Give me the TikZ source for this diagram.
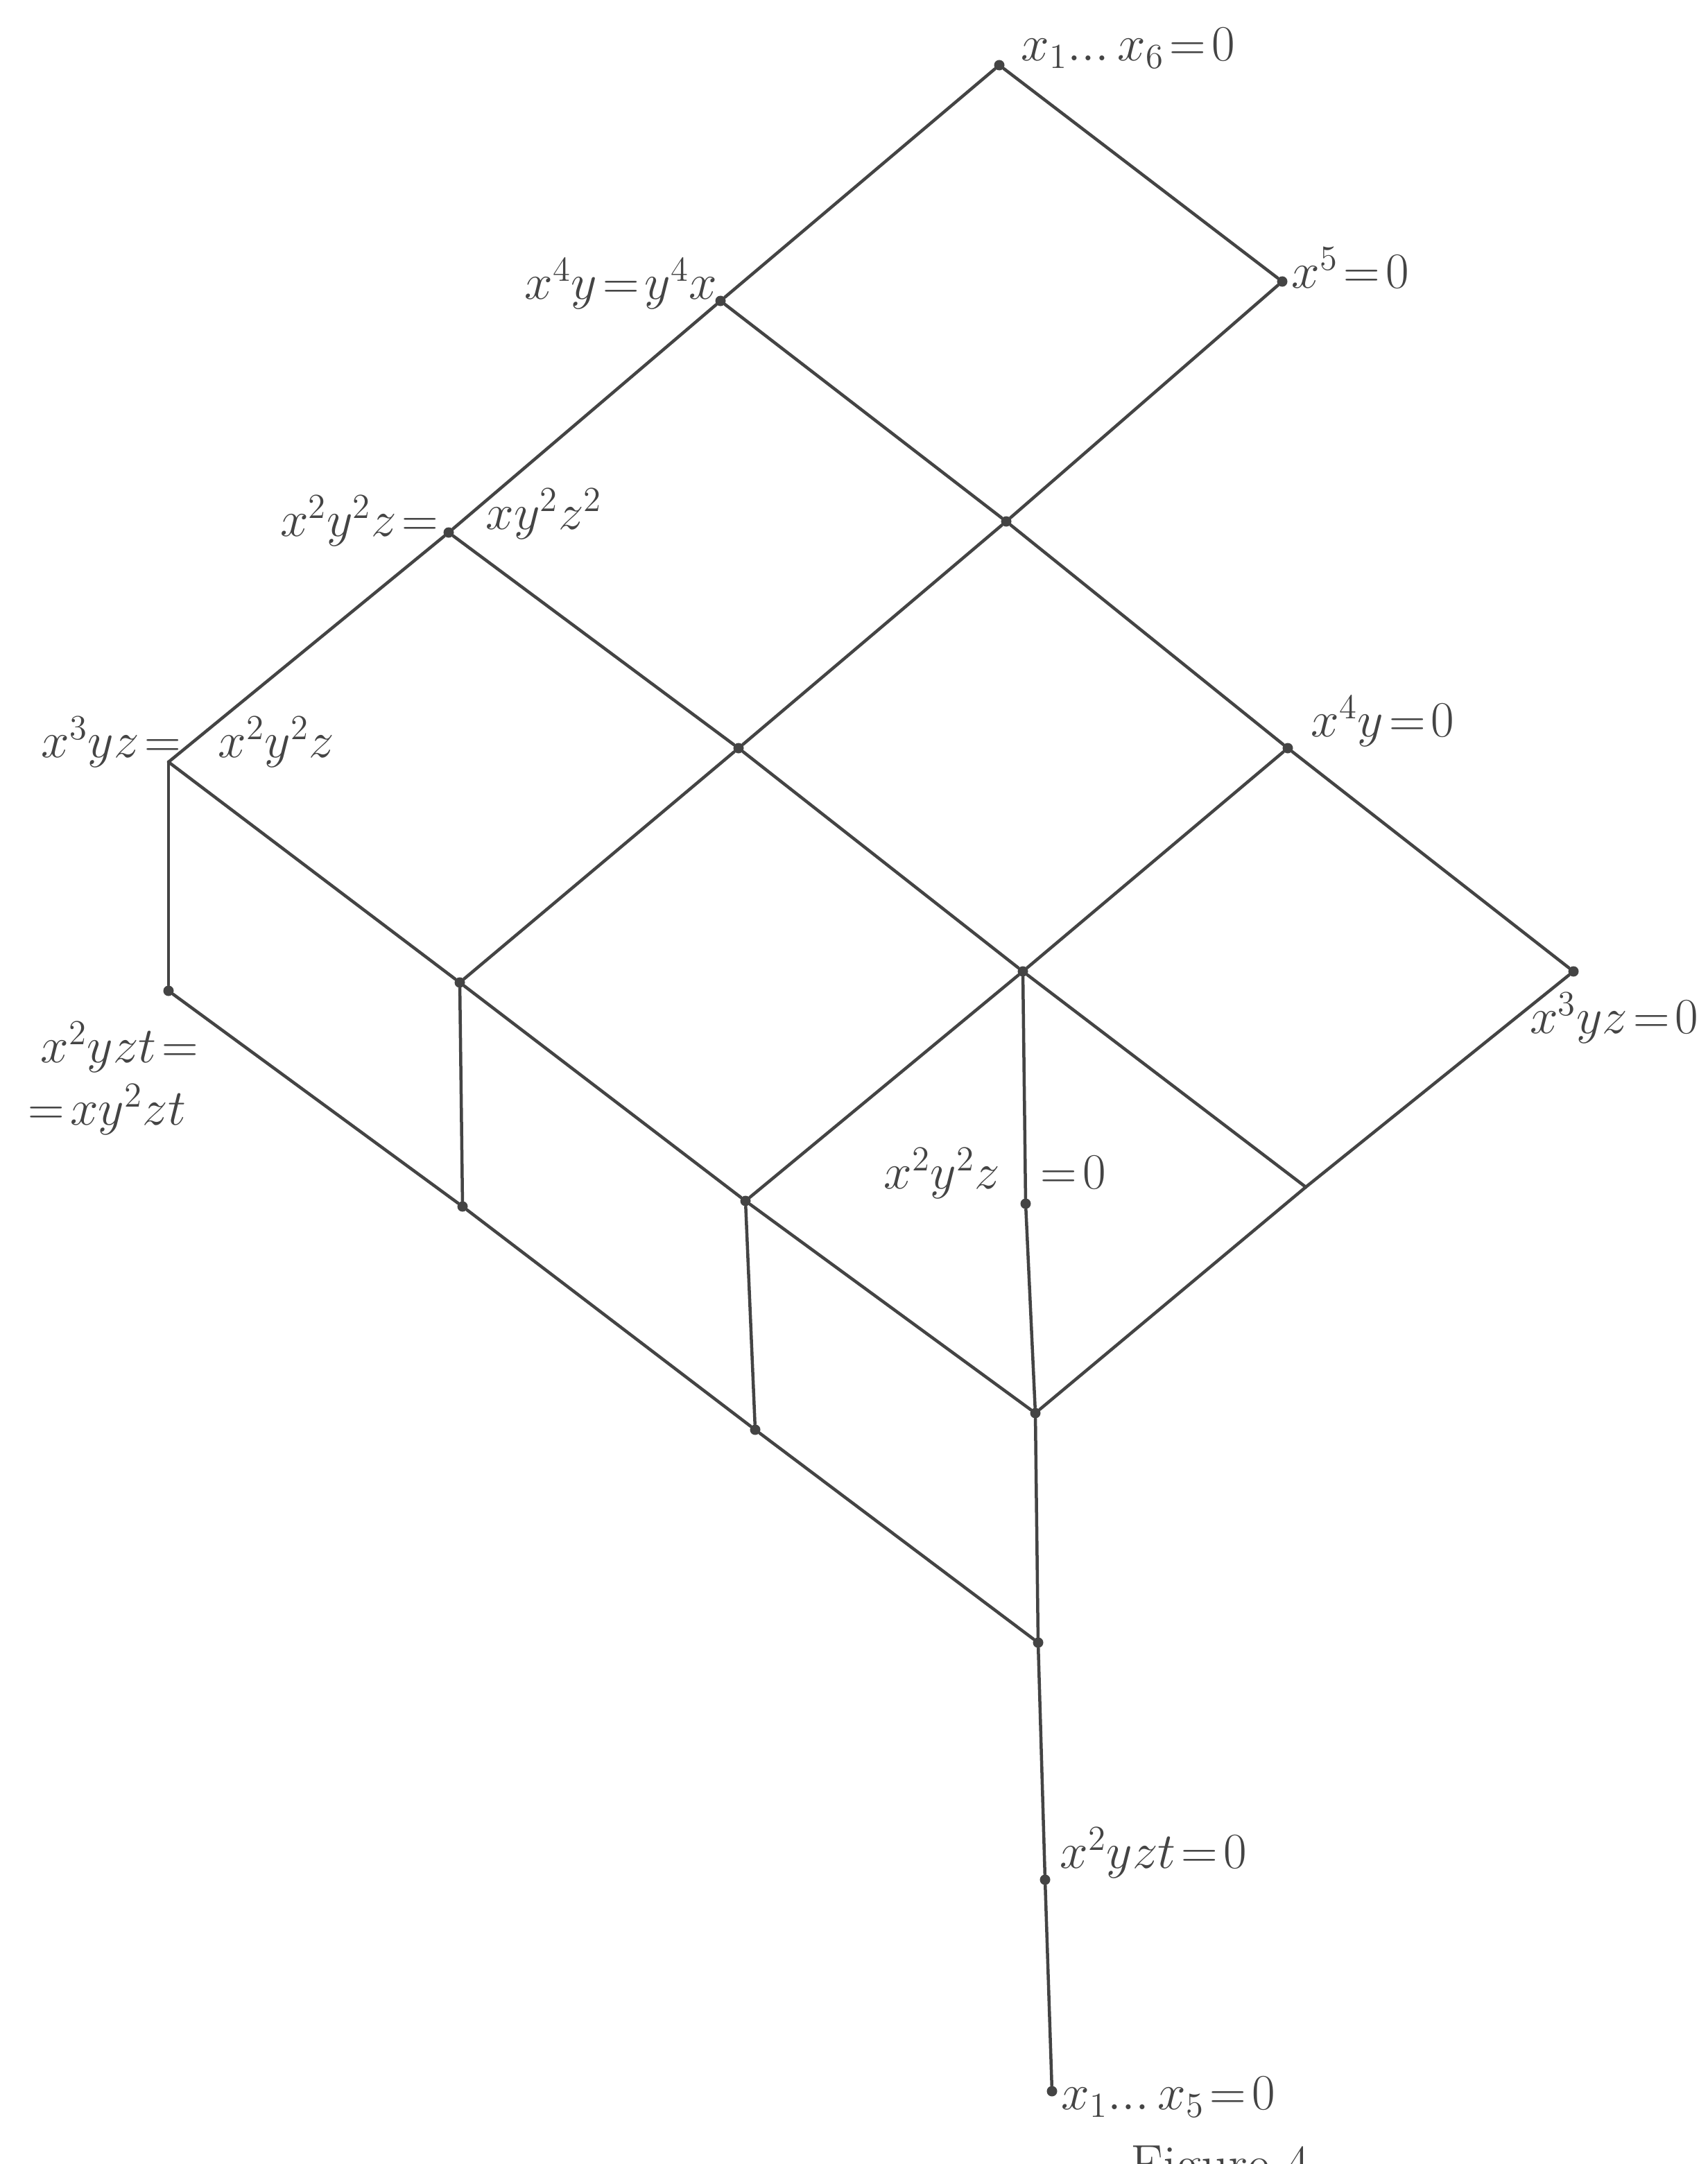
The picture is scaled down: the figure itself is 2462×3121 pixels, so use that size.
\documentclass[tikz,border=0pt]{standalone}
\usepackage{fontspec}
\definecolor{ink}{RGB}{68,68,68}
\newcommand{\tdots}{\ldotp\!\ldotp\!\ldotp}
\begin{document}
\begin{tikzpicture}[x=0.01cm,y=-0.01cm,
  ln/.style={draw=ink,line width=0.045cm,line cap=round,line join=round},
  vtx/.style={circle,fill=ink,inner sep=0pt,minimum size=0.15cm},
  lab/.style={text=ink,inner sep=0pt,font=\fontsize{22}{26}\selectfont,
    execute at begin node={\thickmuskip=2mu\relax\medmuskip=2mu\relax}}]
\useasboundingbox (0,0) rectangle (2462,3121);
\clip (0,0) rectangle (2462,3121);
\fill[white] (0,0) rectangle (2462,3121);
% vertices
\node[vtx] (T)  at (1441,94) {};
\node[vtx] (a1) at (1849,406) {};
\node[vtx] (b0) at (1039,434) {};
\node[vtx] (b1) at (1451,752) {};
\node[vtx] (b2) at (1857,1079) {};
\node[vtx] (b3) at (2269,1401) {};
\node[vtx] (c0) at (647,768) {};
\node[vtx] (c1) at (1065,1079) {};
\node[vtx] (c2) at (1475,1401) {};
\coordinate (c3) at (1883,1712);
\coordinate (d0) at (243,1099);
\node[vtx] (d1) at (663,1417) {};
\node[vtx] (d2) at (1075,1732) {};
\node[vtx] (d3) at (1493,2038) {};
\node[vtx] (e0) at (243,1429) {};
\node[vtx] (e1) at (667,1740) {};
\node[vtx] (e2) at (1089,2062) {};
\node[vtx] (e3) at (1497,2369) {};
\node[vtx] (m)  at (1479,1736) {};
\node[vtx] (f)  at (1507,2711) {};
\node[vtx] (h)  at (1517,3016) {};
% edges
\draw[ln] (T) -- (a1);
\draw[ln] (T) -- (b0);
\draw[ln] (b0) -- (c0);
\draw[ln] (c0) -- (d0);
\draw[ln] (a1) -- (b1);
\draw[ln] (b1) -- (c1);
\draw[ln] (c1) -- (d1);
\draw[ln] (b0) -- (b1);
\draw[ln] (b1) -- (b2);
\draw[ln] (b2) -- (b3);
\draw[ln] (c0) -- (c1);
\draw[ln] (c1) -- (c2);
\draw[ln] (c2) -- (c3);
\draw[ln] (d0) -- (d1);
\draw[ln] (d1) -- (d2);
\draw[ln] (d2) -- (d3);
\draw[ln] (b2) -- (c2);
\draw[ln] (c2) -- (d2);
\draw[ln] (b3) -- (c3);
\draw[ln] (c3) -- (d3);
\draw[ln] (d0) -- (e0);
\draw[ln] (d1) -- (e1);
\draw[ln] (d2) -- (e2);
\draw[ln] (c2) -- (m);
\draw[ln] (m) -- (d3);
\draw[ln] (d3) -- (e3);
\draw[ln] (e0) -- (e1);
\draw[ln] (e1) -- (e2);
\draw[ln] (e2) -- (e3);
\draw[ln] (e3) -- (f);
\draw[ln] (f) -- (h);
% labels
\node[lab,anchor=mid west] (lT) at (1472,80) {$x_1\tdots x_6=0$};
\node[lab,anchor=mid west] (lA) at (1862,408) {$x^5=0$};
\node[lab,anchor=mid east] (lB) at (1035,424) {$x^4y=y^4x$};
\node[lab,anchor=mid east] (lC1) at (633,766) {$x^2y^2z=$};
\node[lab,anchor=mid west] (lC2) at (700,756) {$xy^2z^2$};
\node[lab,anchor=mid east] (lD1) at (262,1085) {$x^3yz=$};
\node[lab,anchor=mid west] (lD2) at (314,1085) {$x^2y^2z$};
\node[lab,anchor=mid west] (lE) at (1890,1055) {$x^4y=0$};
\node[lab,anchor=mid west] (lF1) at (58,1525) {$x^2yzt=$};
\node[lab,anchor=mid west] (lF2) at (40,1615) {$=xy^2zt$};
\node[lab,anchor=mid east] (lG) at (2450,1483) {$x^3yz=0$};
\node[lab,anchor=mid east] (lH1) at (1443,1707) {$x^2y^2z$};
\node[lab,anchor=mid west] (lH2) at (1500,1707) {$=0$};
\node[lab,anchor=mid west] (lI) at (1528,2687) {$x^2yzt=0$};
\node[lab,anchor=mid west] (lJ) at (1530,3035) {$x_1\tdots x_5=0$};
\node[lab,anchor=north] (fig) at (1760,3094) {Figure 4};
\end{tikzpicture}
\end{document}
